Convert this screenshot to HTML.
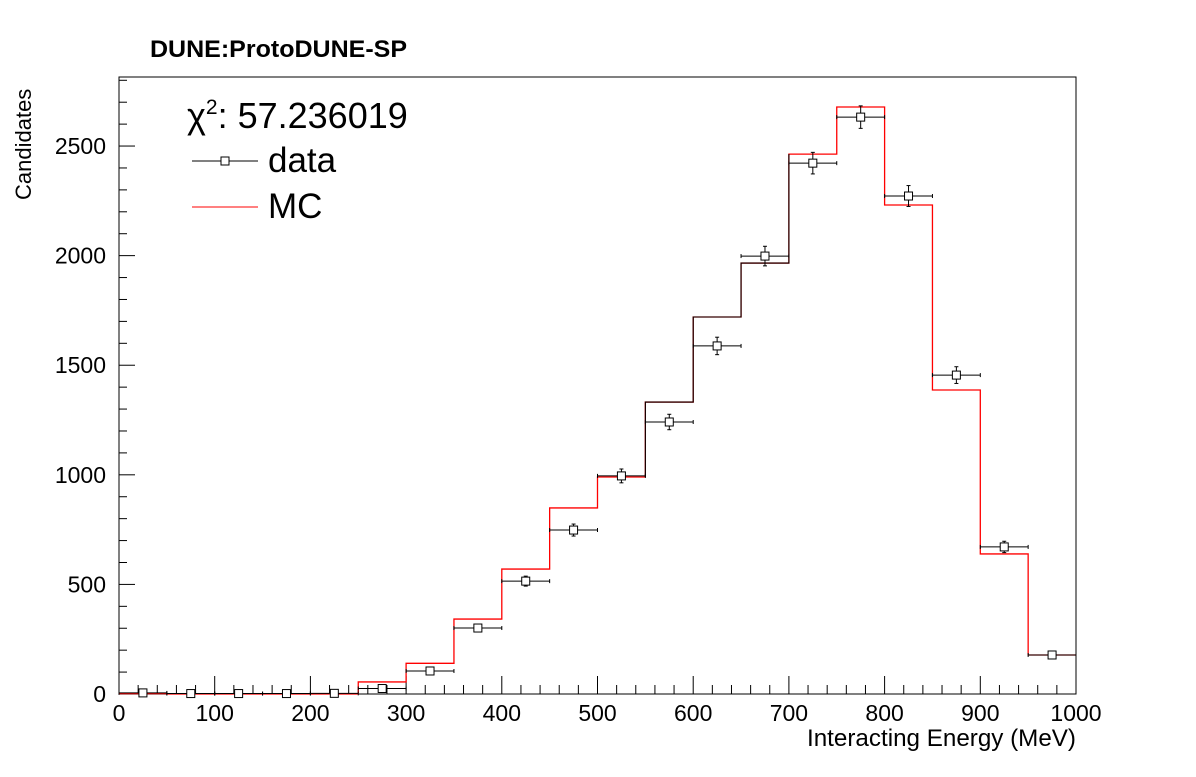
<!DOCTYPE html>
<html><head><meta charset="utf-8"><style>
body{margin:0;background:#fff;width:1196px;height:772px;overflow:hidden}
svg text{font-family:"Liberation Sans",sans-serif}
</style></head><body>
<svg id="chart" width="1196" height="772" xmlns="http://www.w3.org/2000/svg">
<text x="150" y="57" font-size="24" font-weight="bold" textLength="257" lengthAdjust="spacingAndGlyphs">DUNE:ProtoDUNE-SP</text>
<rect x="119" y="77" width="957" height="617" fill="none" stroke="#000" stroke-width="1"/>
<g id="ticks"></g>
<g id="mc"></g>
<g id="data"></g>
<text x="1076" y="746" font-size="24" text-anchor="end" textLength="269" lengthAdjust="spacingAndGlyphs">Interacting Energy (MeV)</text>
<text transform="translate(31,200) rotate(-90)" font-size="22">Candidates</text>
<g>
<text x="187" y="128" font-size="36">χ<tspan font-size="21" dy="-14">2</tspan><tspan dy="14">: 57.236019</tspan></text>
<line x1="192" y1="161" x2="258" y2="161" stroke="#000"/>
<rect x="221" y="157" width="8" height="8" fill="#fff" stroke="#000"/>
<text x="268" y="172" font-size="35">data</text>
<line x1="192" y1="207" x2="258" y2="207" stroke="#f00"/>
<text x="268" y="218" font-size="35">MC</text>
</g>
</svg>
<script>
const binEdges=[0,50,100,150,200,250,300,350,400,450,500,550,600,650,700,750,800,850,900,950,1000];
const mcValues=[2,0,0,0,0,55,140,342,570,849,990,1332,1720,1966,2463,2678,2231,1387,639,178];
const dataValues=[5,2,2,2,3,25,105,301,515,748,995,1241,1588,1998,2422,2632,2272,1455,671,178];
const xTicks=[0,100,200,300,400,500,600,700,800,900,1000];
const yTicks=[0,500,1000,1500,2000,2500];
const NS="http://www.w3.org/2000/svg";
const X0=119,X1=1076,Y0=694,YT=77,XMAX=1000,YMAX=2815;
const xs=v=>X0+(X1-X0)*v/XMAX;
const ys=v=>Y0-(Y0-YT)*v/YMAX;
function mk(tag,attrs,parent){const e=document.createElementNS(NS,tag);for(const k in attrs)e.setAttribute(k,attrs[k]);parent.appendChild(e);return e;}
const tg=document.getElementById('ticks');
for(let v=0;v<=XMAX;v+=20){const major=v%100===0;const l=mk('line',{x1:xs(v),x2:xs(v),y1:Y0,y2:Y0-(major?18:9),stroke:'#000'},tg);

}
xTicks.forEach(v=>{const t=mk('text',{x:xs(v),y:721,'font-size':23,'text-anchor':'middle'},tg);t.textContent=v;

});
for(let v=0;v<=2800;v+=100){const major=v%500===0;const l=mk('line',{x1:X0,x2:X0+(major?16:8),y1:ys(v),y2:ys(v),stroke:'#000'},tg);

}
yTicks.forEach(v=>{const t=mk('text',{x:106,y:ys(v)+8,'font-size':23,'text-anchor':'end'},tg);t.textContent=v;

});
const mg=document.getElementById('mc');
let d='M'+xs(0)+','+ys(mcValues[0]);
mcValues.forEach((v,i)=>{d+=' H'+xs(binEdges[i+1]);if(i+1<mcValues.length)d+=' V'+ys(mcValues[i+1]);});
const p=mk('path',{d:d,fill:'none',stroke:'#f00','stroke-width':1.3},mg);


let d2='M'+xs(binEdges[11])+','+ys(mcValues[10]);
for(let i=11;i<=13;i++){d2+=' V'+ys(mcValues[i])+' H'+xs(binEdges[i+1]);}
d2+=' V'+ys(mcValues[14]);
const p2=mk('path',{d:d2,fill:'none',stroke:'#000','stroke-width':1.1},mg);


const dg=document.getElementById('data');
dataValues.forEach((v,i)=>{const c=(binEdges[i]+binEdges[i+1])/2,cx=xs(c),cy=ys(v),err=Math.sqrt(v);
const g=mk('g',{},dg);


mk('line',{x1:xs(binEdges[i]),x2:cx-4,y1:cy,y2:cy,stroke:'#000'},g);
mk('line',{x1:cx+4,x2:xs(binEdges[i+1]),y1:cy,y2:cy,stroke:'#000'},g);
mk('line',{x1:xs(binEdges[i]),x2:xs(binEdges[i]),y1:cy-2,y2:cy+2,stroke:'#000'},g);
mk('line',{x1:xs(binEdges[i+1]),x2:xs(binEdges[i+1]),y1:cy-2,y2:cy+2,stroke:'#000'},g);
if(ys(v-err)-ys(v+err)>8){mk('line',{x1:cx,x2:cx,y1:ys(v+err),y2:cy-4,stroke:'#000'},g);mk('line',{x1:cx,x2:cx,y1:cy+4,y2:ys(v-err),stroke:'#000'},g);
mk('line',{x1:cx-2,x2:cx+2,y1:ys(v+err),y2:ys(v+err),stroke:'#000'},g);mk('line',{x1:cx-2,x2:cx+2,y1:ys(v-err),y2:ys(v-err),stroke:'#000'},g);}
mk('rect',{x:cx-4,y:cy-4,width:8,height:8,fill:'#fff',stroke:'#000'},g);});
</script>
</body></html>
